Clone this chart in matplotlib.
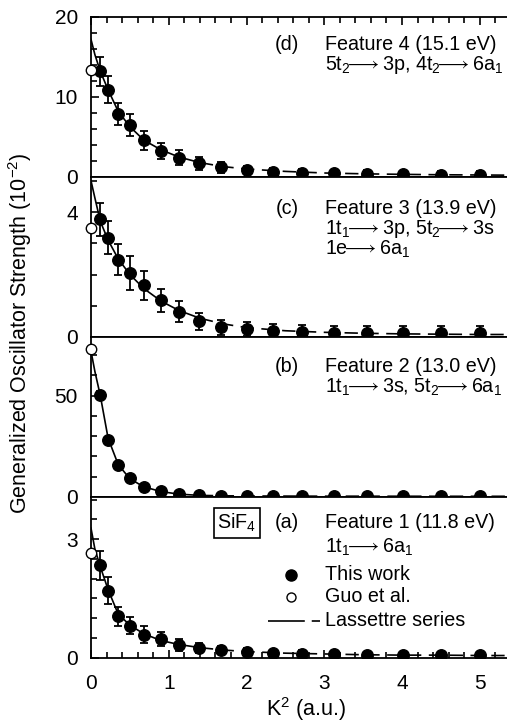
import matplotlib
matplotlib.use("Agg")
import matplotlib.pyplot as plt
from matplotlib.ticker import MultipleLocator
from matplotlib.lines import Line2D

plt.rcParams['font.family'] = ['Liberation Sans', 'DejaVu Sans']
plt.rcParams['mathtext.fontset'] = 'custom'
plt.rcParams['mathtext.rm'] = 'Liberation Sans'
plt.rcParams['mathtext.it'] = 'Liberation Sans'
plt.rcParams['mathtext.default'] = 'regular'

# ---------------- data ----------------
k2 = [0.12, 0.22, 0.35, 0.50, 0.68, 0.90, 1.13, 1.39, 1.67, 2.00, 2.34, 2.72, 3.12, 3.55, 4.01, 4.50, 5.00]

d_gos = [13.2, 10.9, 7.9, 6.5, 4.6, 3.3, 2.4, 1.7, 1.2, 0.88, 0.67, 0.54, 0.47, 0.38, 0.33, 0.28, 0.25]
d_err = [1.8, 1.7, 1.35, 1.4, 1.2, 1.0, 0.95, 0.8, 0.7, 0.55, 0.5, 0.45, 0.45, 0.45, 0.45, 0.45, 0.45]

c_gos = [3.77, 3.18, 2.48, 2.05, 1.66, 1.17, 0.81, 0.51, 0.32, 0.25, 0.19, 0.15, 0.13, 0.13, 0.12, 0.12, 0.12]
c_err = [0.53, 0.52, 0.50, 0.53, 0.46, 0.38, 0.33, 0.27, 0.24, 0.22, 0.22, 0.22, 0.22, 0.22, 0.22, 0.22, 0.22]

b_gos = [50.5, 28.0, 15.8, 9.6, 5.0, 3.0, 1.65, 1.0, 0.66, 0.5, 0.5, 0.45, 0.4, 0.4, 0.4, 0.4, 0.4]
b_err = [2.0, 1.6, 1.2, 0.8, 0.5, 0.4, 0.3, 0.3, 0.3, 0.3, 0.3, 0.3, 0.3, 0.3, 0.3, 0.3, 0.3]

a_gos = [2.34, 1.69, 1.04, 0.81, 0.58, 0.47, 0.32, 0.25, 0.19, 0.15, 0.12, 0.10, 0.08, 0.07, 0.06, 0.06, 0.06]
a_err = [0.37, 0.34, 0.25, 0.22, 0.21, 0.18, 0.15, 0.13, 0.10, 0.08, 0.08, 0.08, 0.08, 0.08, 0.08, 0.08, 0.08]

guo_k2 = [0.0]
guo_d = [13.4]
guo_c = [3.5]
guo_b = [73.0]
guo_a = [2.65]

fit_k2 = [0.0, 0.05, 0.12, 0.22, 0.35, 0.50, 0.68, 0.90, 1.13, 1.40, 1.70, 2.00, 2.50, 3.00, 3.50, 4.00, 4.50, 5.00, 5.35]
d_fit = [17.2, 15.3, 13.2, 10.9, 8.2, 6.3, 4.6, 3.4, 2.5, 1.8, 1.3, 1.0, 0.7, 0.5, 0.4, 0.33, 0.28, 0.25, 0.23]
c_fit = [5.0, 4.45, 3.7, 3.1, 2.5, 2.0, 1.55, 1.15, 0.85, 0.6, 0.42, 0.3, 0.2, 0.15, 0.12, 0.1, 0.09, 0.08, 0.08]
b_fit = [72.0, 62.0, 50.0, 29.0, 16.0, 9.0, 5.0, 2.7, 1.4, 0.8, 0.6, 0.5, 0.45, 0.4, 0.4, 0.38, 0.36, 0.35, 0.35]
a_fit = [3.28, 2.75, 2.3, 1.72, 1.1, 0.82, 0.6, 0.43, 0.33, 0.25, 0.19, 0.15, 0.11, 0.09, 0.07, 0.06, 0.06, 0.05, 0.05]

ylims = {'d': 20.0, 'c': 5.12, 'b': 79.0, 'a': 4.07}
ymajor = {'d': 10, 'c': 4, 'b': 50, 'a': 3}
yminor = {'d': 2, 'c': 1, 'b': 10, 'a': 0.5}

AR = r"$\!\!\longrightarrow$"
panel_text = {
    'd': ["Feature 4 (15.1 eV)", "5t$_2$" + AR + "3p, 4t$_2$" + AR + "6a$_1$"],
    'c': ["Feature 3 (13.9 eV)", "1t$_1$" + AR + "3p, 5t$_2$" + AR + "3s", "1e" + AR + "6a$_1$"],
    'b': ["Feature 2 (13.0 eV)", "1t$_1$" + AR + "3s, 5t$_2$" + AR + "6a$_1$"],
    'a': ["Feature 1 (11.8 eV)", "1t$_1$" + AR + "6a$_1$"],
}
legend_labels = ["This work", "Guo et al.", "Lassettre series"]

# ---------------- figure ----------------
W, H = 507, 725
fig = plt.figure(figsize=(W / 100, H / 100), dpi=100)

left = 91 / W
width = 1.0 - left
bounds_px = {'d': (17, 177), 'c': (177, 337), 'b': (337, 497), 'a': (497, 657.5)}
text_y = {'d': [45, 65], 'c': [208, 229, 249], 'b': [367, 387], 'a': [523, 547]}

FS = 14.2     # annotation text
TFS = 15      # tick labels
LFS = 15.5    # axis labels
black = 'black'
axes = {}
for key in ['d', 'c', 'b', 'a']:
    top, bot = bounds_px[key]
    ax = fig.add_axes([left, 1 - bot / H, width, (bot - top) / H])
    axes[key] = ax

data = {
    'd': (d_gos, d_err, guo_d, d_fit),
    'c': (c_gos, c_err, guo_c, c_fit),
    'b': (b_gos, b_err, guo_b, b_fit),
    'a': (a_gos, a_err, guo_a, a_fit),
}

split = fit_k2.index(1.40)
for key, ax in axes.items():
    gos, err, guo, fit = data[key]
    ax.set_xlim(0, 5.35)
    ax.set_ylim(0, ylims[key])
    ax.plot(fit_k2[:split + 1], fit[:split + 1], color=black, lw=1.2, zorder=2)
    ax.plot(fit_k2[split:], fit[split:], color=black, lw=1.2, dashes=(8, 4.5), zorder=2)
    ax.errorbar(k2, gos, yerr=err, fmt='o', color=black, ms=8.3, elinewidth=1.3,
                capsize=3.2, capthick=1.3, zorder=3)
    ax.plot(guo_k2, guo, 'o', mfc='white', mec=black, mew=1.0, ms=7.5, zorder=4, clip_on=False)

    for s in ['left', 'top', 'bottom']:
        ax.spines[s].set_linewidth(1.3)
    ax.spines['right'].set_visible(False)

    ax.yaxis.set_major_locator(MultipleLocator(ymajor[key]))
    ax.yaxis.set_minor_locator(MultipleLocator(yminor[key]))
    ax.tick_params(axis='y', which='both', direction='in', left=True, right=False,
                   labelsize=TFS, pad=9.5, width=1.2)
    ax.tick_params(axis='y', which='major', length=6)
    ax.tick_params(axis='y', which='minor', length=4.5)
    ax.yaxis.set_major_formatter(plt.FuncFormatter(lambda v, p: f"{v:g}"))

    ax.xaxis.set_major_locator(MultipleLocator(1))
    ax.xaxis.set_minor_locator(MultipleLocator(0.2))
    if key == 'd':
        ax.tick_params(axis='x', which='both', direction='in', top=True, bottom=False,
                       labeltop=False, labelbottom=False, width=1.2)
    elif key == 'a':
        ax.tick_params(axis='x', which='both', direction='in', top=False, bottom=True,
                       labelbottom=True, labelsize=TFS, pad=12, width=1.2)
    else:
        ax.tick_params(axis='x', which='both', top=False, bottom=False,
                       labelbottom=False, labeltop=False)
    ax.tick_params(axis='x', which='major', length=6)
    ax.tick_params(axis='x', which='minor', length=4)

    top, bot = bounds_px[key]
    hgt = bot - top

    def fy(ypx, top=top, hgt=hgt):
        return 1 - (ypx - top) / hgt

    def fx(xpx):
        return (xpx - 91) / (W - 91)

    ys = text_y[key]
    ax.text(fx(287), fy(ys[0]), f"({key})", transform=ax.transAxes, ha='center', va='center', fontsize=FS)
    for line, ypx in zip(panel_text[key], ys):
        ax.text(fx(325), fy(ypx), line, transform=ax.transAxes, ha='left', va='center', fontsize=FS)

    if key == 'a':
        ax.text(fx(237), fy(523), r"SiF$_4$", transform=ax.transAxes, ha='center', va='center',
                fontsize=FS, bbox=dict(boxstyle='square,pad=0.2', fc='white', ec=black, lw=1.2))
        ax.plot([fx(291)], [fy(575)], 'o', color=black, ms=8, transform=ax.transAxes)
        ax.plot([fx(291)], [fy(597)], 'o', mfc='white', mec=black, mew=1.0, ms=6.5, transform=ax.transAxes)
        ax.add_line(Line2D([fx(268), fx(320)], [fy(621), fy(621)], color=black, lw=1.2,
                           dashes=(26.5 / 1.2, 5 / 1.2, 6 / 1.2, 60), transform=ax.transAxes))
        for lab, ypx in zip(legend_labels, [575, 597, 621]):
            ax.text(fx(325), fy(ypx), lab, transform=ax.transAxes, ha='left', va='center', fontsize=FS)

fig.text(20 / W, 1 - 333 / H, r"Generalized Oscillator Strength (10$^{-2}$)", rotation=90,
         ha='center', va='center', fontsize=LFS)
fig.text(306 / W, 1 - 709 / H, r"K$^2$ (a.u.)", ha='center', va='center', fontsize=LFS)

fig.savefig("out.png", dpi=100)
